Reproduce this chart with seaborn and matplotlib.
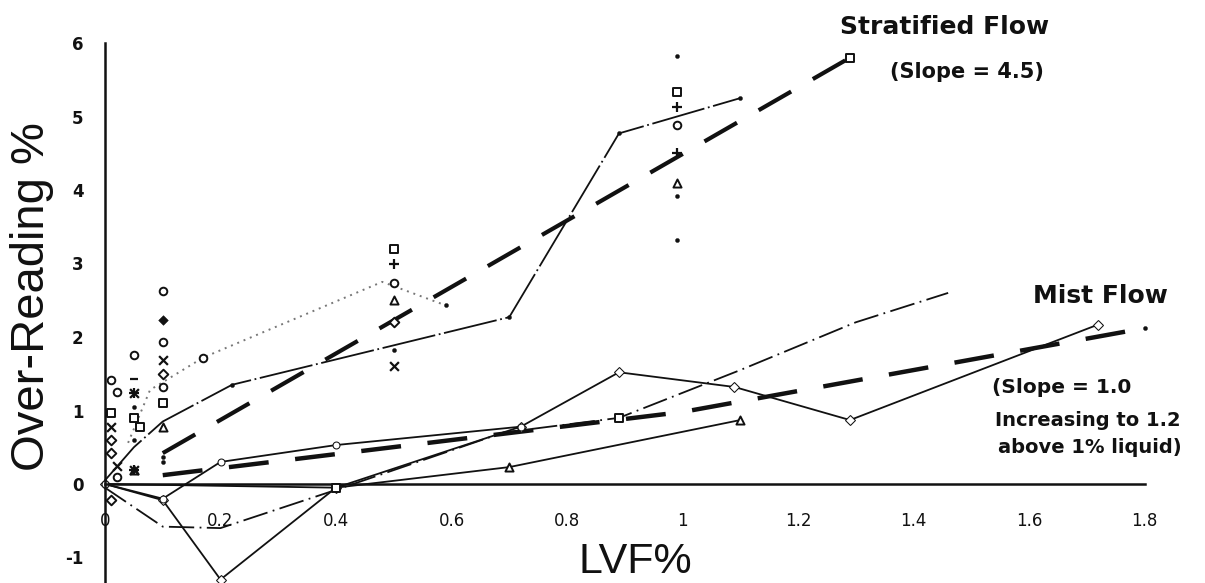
import numpy as np
import pandas as pd
import matplotlib
matplotlib.use("Agg")
import matplotlib.pyplot as plt
import seaborn as sns

sns.set_style("white")
plt.rcParams['font.family'] = ['Liberation Sans', 'DejaVu Sans']

# axis ticks
x_ticks = [0, 0.2, 0.4, 0.6, 0.8, 1.0, 1.2, 1.4, 1.6, 1.8]
x_tick_labels = ["0", "0.2", "0.4", "0.6", "0.8", "1", "1.2", "1.4", "1.6", "1.8"]
y_ticks = [-1, 0, 1, 2, 3, 4, 5, 6]
y_tick_labels = ["-1", "0", "1", "2", "3", "4", "5", "6"]

# fitted lines (thick dashed)
strat_fit_x = [0.10, 1.29]
strat_fit_y = [0.42, 5.80]
mist_fit_x = [0.10, 1.00, 1.80]
mist_fit_y = [0.12, 0.98, 2.12]

# measured series (thin lines)
a_x = [0.0, 0.05, 0.10, 0.22, 0.70, 0.89, 1.10]
a_y = [0.05, 0.50, 0.85, 1.35, 2.27, 4.77, 5.25]
b_x = [0.04, 0.078, 0.17, 0.48, 0.59]
b_y = [0.56, 1.28, 1.72, 2.75, 2.43]
c_x = [0.0, 0.10, 0.20, 0.40, 0.72, 0.89, 1.09, 1.29, 1.72]
c_y = [0.0, -0.22, -1.30, -0.05, 0.78, 1.52, 1.32, 0.87, 2.17]
d_x = [0.0, 0.10, 0.20, 0.40, 0.69, 0.89, 1.10, 1.30, 1.46]
d_y = [-0.05, -0.58, -0.60, -0.08, 0.70, 0.90, 1.55, 2.20, 2.60]
e_x = [0.0, 0.40, 0.70, 1.10]
e_y = [0.0, -0.05, 0.23, 0.87]
f_x = [0.0, 0.10, 0.20, 0.40, 0.72]
f_y = [0.0, -0.20, 0.30, 0.53, 0.78]

# scattered test points
sq_x = [0.01, 0.05, 0.06, 0.10, 0.50, 0.99, 0.40, 0.89, 1.29]
sq_y = [0.96, 0.90, 0.78, 1.10, 3.20, 5.33, -0.05, 0.90, 5.80]
circ_x = [0.05, 0.10, 0.10, 0.10, 0.50, 0.99, 0.17, 0.02, 0.01, 0.02]
circ_y = [1.75, 2.62, 1.93, 1.32, 2.73, 4.88, 1.72, 0.10, 1.41, 1.25]
dia_x = [0.10, 0.50, 0.01, 0.01, 0.01]
dia_y = [1.50, 2.20, 0.60, 0.42, -0.22]
fdia_x = [0.10]
fdia_y = [2.23]
tri_x = [0.10, 0.50, 0.99, 0.05, 0.70, 1.10]
tri_y = [0.78, 2.50, 4.10, 0.19, 0.23, 0.87]
plus_x = [0.50, 0.99, 0.99, 0.05, 0.05]
plus_y = [3.00, 5.13, 4.50, 1.24, 0.19]
cross_x = [0.50, 0.10, 0.01, 0.05, 0.05, 0.02]
cross_y = [1.60, 1.69, 0.78, 1.24, 0.19, 0.25]
dot_x = [0.99, 0.99, 0.99, 0.50, 0.10, 0.10, 0.05, 0.05, 0.59, 1.80, 0.22, 0.70, 0.89, 1.10]
dot_y = [5.82, 3.92, 3.32, 1.82, 0.37, 0.30, 1.05, 0.60, 2.43, 2.12, 1.35, 2.27, 4.77, 5.25]
dash_x = [0.05]
dash_y = [1.43]

ink = "#111111"

fig = plt.figure(figsize=(12.05, 5.83), dpi=100)
ax = fig.add_axes([0, 0, 1, 1])

# pixel mapping: x=0 at 105 px, 577.5 px per unit; y=0 at 484 px, 73.5 px per unit
ax.set_xlim(-105 / 577.5, 1100 / 577.5)
ax.set_ylim(-99 / 73.5, 484 / 73.5)

#fit lines
sns.lineplot(x=strat_fit_x, y=strat_fit_y, sort=False, estimator=None, color=ink,
             linewidth=3, linestyle=(0, (9, 6)), ax=ax)
sns.lineplot(x=mist_fit_x, y=mist_fit_y, sort=False, estimator=None, color=ink,
             linewidth=3.2, linestyle=(0, (9, 6)), ax=ax)

#data lines
sns.lineplot(x=a_x, y=a_y, sort=False, estimator=None, color=ink, linewidth=1.3,
             linestyle=(0, (30, 2, 1, 2)), ax=ax)
sns.lineplot(x=b_x, y=b_y, sort=False, estimator=None, color="#777777", linewidth=1.4,
             linestyle=(0, (1, 2.5)), ax=ax)
sns.lineplot(x=c_x, y=c_y, sort=False, estimator=None, color=ink, linewidth=1.3,
             marker="D", markersize=5, markerfacecolor="white", markeredgecolor=ink, ax=ax)
sns.lineplot(x=d_x, y=d_y, sort=False, estimator=None, color=ink, linewidth=1.3,
             linestyle=(0, (14, 3, 1, 3)), ax=ax)
sns.lineplot(x=e_x, y=e_y, sort=False, estimator=None, color=ink, linewidth=1.3, ax=ax)
sns.lineplot(x=f_x, y=f_y, sort=False, estimator=None, color=ink, linewidth=1.3,
             marker="o", markersize=5, markerfacecolor="white", markeredgecolor=ink, ax=ax)

#scatter points
def open_pts(xs, ys, m, s=30):
    sns.scatterplot(x=xs, y=ys, marker=m, s=s, facecolor="white", edgecolor=ink,
                    linewidth=1.4, zorder=4, ax=ax)

def line_pts(xs, ys, m, s=40):
    sns.scatterplot(x=xs, y=ys, marker=m, s=s, color=ink, linewidth=1.6, zorder=4, ax=ax)

open_pts(sq_x, sq_y, "s", 28)
open_pts(circ_x, circ_y, "o", 30)
open_pts(dia_x, dia_y, "D", 24)
open_pts(tri_x, tri_y, "^", 34)
sns.scatterplot(x=fdia_x, y=fdia_y, marker="D", s=24, color=ink, edgecolor=ink, zorder=4, ax=ax)
line_pts(plus_x, plus_y, "+", 50)
line_pts(cross_x, cross_y, "x", 40)
line_pts(dash_x, dash_y, "_", 40)
sns.scatterplot(x=dot_x, y=dot_y, marker="o", s=9, color=ink, edgecolor=ink, zorder=4, ax=ax)

#axes through the origin
for side in ["top", "right"]:
    ax.spines[side].set_visible(False)
ax.spines["left"].set_position(("data", 0))
ax.spines["bottom"].set_position(("data", 0))
ax.spines["left"].set_bounds(-99 / 73.5, 6)
ax.spines["bottom"].set_bounds(0, 1.8)
for side in ["left", "bottom"]:
    ax.spines[side].set_linewidth(1.8)
    ax.spines[side].set_color(ink)
ax.patch.set_facecolor("white")

ax.set_xticks(x_ticks)
ax.set_xticklabels(x_tick_labels)
ax.set_yticks(y_ticks)
ax.set_yticklabels(y_tick_labels)
ax.tick_params(axis="x", direction="inout", length=11, width=1.8, pad=15, colors=ink,
               labelsize=12)
ax.tick_params(axis="y", direction="inout", length=13, width=1.8, pad=9, colors=ink,
               labelsize=12)
for lab in ax.get_xticklabels():
    lab.set_fontfamily("DejaVu Sans")
for lab in ax.get_yticklabels():
    lab.set_fontfamily("DejaVu Sans")
    lab.set_fontweight("bold")

#annotations
bold = dict(family="DejaVu Sans", weight="bold", color=ink, va="center", ha="left")
ax.text(1.273, 6.22, "Stratified Flow", fontsize=18, **bold)
ax.text(1.359, 5.61, "(Slope = 4.5)", fontsize=15, **bold)
ax.text(1.607, 2.56, "Mist Flow", fontsize=18, **bold)
ax.text(1.536, 1.31, "(Slope = 1.0", fontsize=14.5, **bold)
ax.text(1.541, 0.87, "Increasing to 1.2", fontsize=14, **bold)
ax.text(1.546, 0.49, "above 1% liquid)", fontsize=14, **bold)

#axis titles
fig.text(32 / 1205, 1 - 297 / 583, "Over-Reading %", rotation=90, ha="center", va="center",
         fontsize=34, color=ink)
fig.text(635 / 1205, 1 - 562 / 583, "LVF%", ha="center", va="center", fontsize=31, color=ink)

fig.savefig("out.png", dpi=100)
